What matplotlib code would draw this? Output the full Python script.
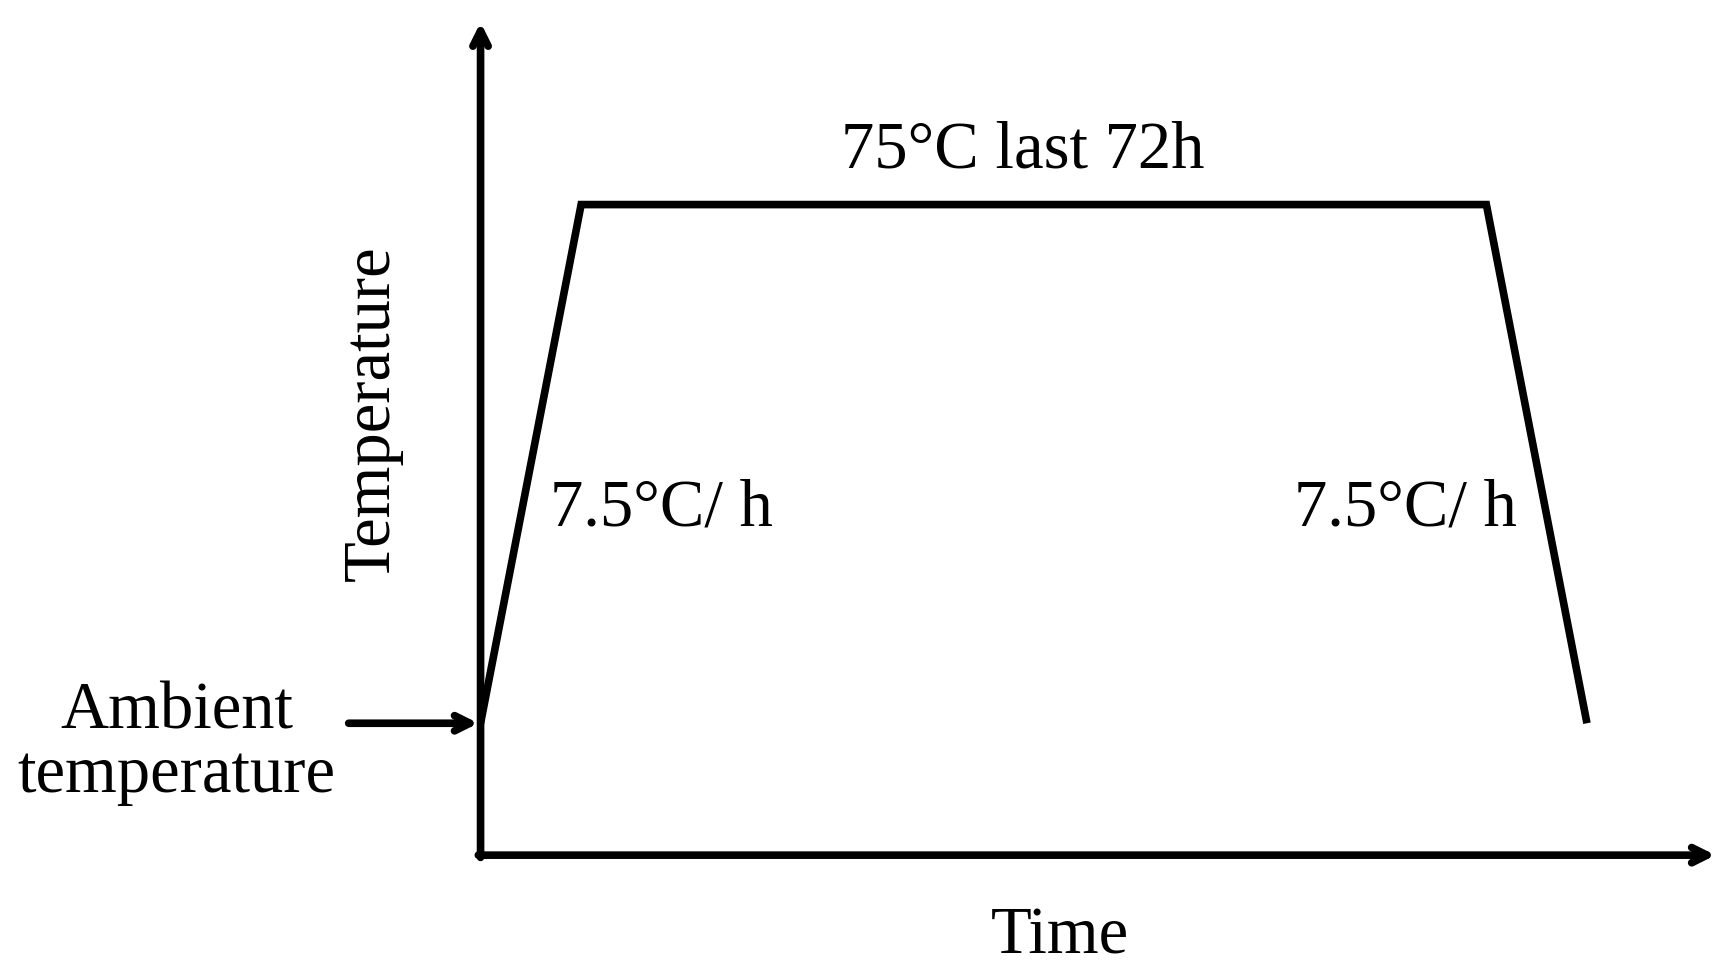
import matplotlib
matplotlib.use("Agg")
import matplotlib.pyplot as plt

# Temperature profile (arbitrary schematic units)
time_pts = [0, 90, 900, 990]
temp_pts = [118, 582, 582, 118]
ambient_level = 118
plateau_label = "75°C last 72h"
ramp_label = "7.5°C/ h"

fig = plt.figure(figsize=(17.30, 9.77), dpi=100)
ax = fig.add_axes([0, 0, 1, 1])
ax.set_xlim(-430, 1118)
ax.set_ylim(-109, 765)
ax.axis("off")
font = dict(family="Liberation Serif", color="black")
lw = 5.5
fs = 48

ax.plot(time_pts, temp_pts, color="black", lw=lw, solid_capstyle="butt", solid_joinstyle="miter")
arrow = dict(arrowstyle="->,head_length=1.1,head_width=0.55", lw=lw, color="black", shrinkA=0, shrinkB=0)
ax.annotate("", xy=(0, 745), xytext=(0, -2), arrowprops=arrow)
ax.annotate("", xy=(1105, 0), xytext=(-2, 0), arrowprops=arrow)
ax.annotate("", xy=(-2, ambient_level), xytext=(-118, ambient_level), arrowprops=arrow)

ax.text(485, 630, plateau_label, ha="center", va="center", fontsize=fs, **font)
ax.text(162, 310, ramp_label, ha="center", va="center", fontsize=fs, **font)
ax.text(828, 310, ramp_label, ha="center", va="center", fontsize=fs, **font)
ax.text(-97, 395, "Temperature", rotation=90, ha="center", va="center", fontsize=fs, **font)
ax.text(-272, 100, "Ambient\ntemperature", ha="center", va="center", fontsize=fs, linespacing=1.05, **font)
ax.text(518, -73, "Time", ha="center", va="center", fontsize=fs, **font)

fig.savefig("out.png", dpi=100)
